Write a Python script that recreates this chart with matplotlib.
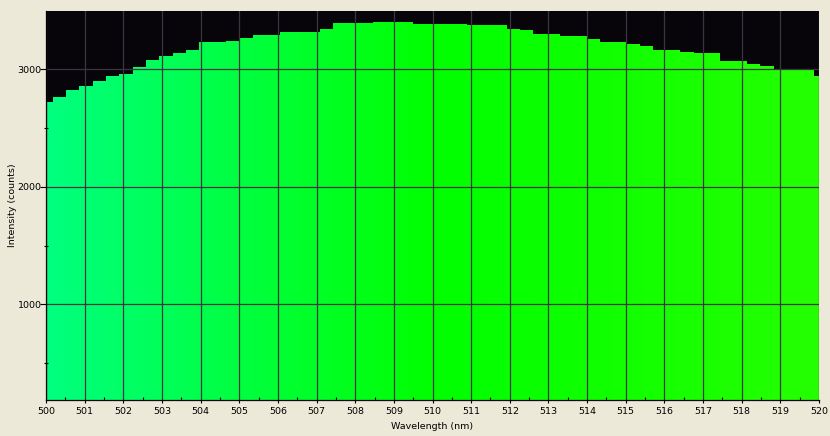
import numpy as np
import matplotlib
matplotlib.use('Agg')
import matplotlib.pyplot as plt
from matplotlib.ticker import MultipleLocator

# ---------------------------------------------------------------- data ----

wavelengths = [500.00, 500.35, 500.69, 501.04, 501.38, 501.73, 502.07, 502.42,
               502.76, 503.11, 503.45, 503.80, 504.14, 504.49, 504.84, 505.18,
               505.53, 505.87, 506.22, 506.56, 506.91, 507.25, 507.60, 507.94,
               508.29, 508.64, 508.98, 509.33, 509.67, 510.02, 510.36, 510.71,
               511.05, 511.40, 511.74, 512.09, 512.43, 512.78, 513.13, 513.47,
               513.82, 514.16, 514.51, 514.85, 515.20, 515.54, 515.89, 516.23,
               516.58, 516.93, 517.27, 517.62, 517.96, 518.31, 518.65, 519.00,
               519.34, 519.69, 520.03]

counts = [2722, 2764, 2824, 2858, 2900, 2943, 2960, 3020, 3079, 3113, 3139, 3164,
          3232, 3232, 3241, 3266, 3292, 3292, 3317, 3317, 3317, 3343, 3394, 3394,
          3394, 3402, 3402, 3402, 3385, 3385, 3385, 3385, 3377, 3377, 3377, 3343,
          3334, 3300, 3300, 3283, 3283, 3258, 3232, 3232, 3215, 3198, 3164, 3164,
          3147, 3139, 3139, 3071, 3071, 3045, 3028, 2997, 2997, 2997, 2943]

x_ticks = list(range(500, 521))
y_ticks = [1000, 2000, 3000]


def wl_color(wl):
    # rough visible-spectrum colour, only the green part is needed here
    if wl < 510:
        return (0.0, 1.0, (510 - wl) / 20.0)
    return (min((wl - 510) / 70.0, 1.0), 1.0, 0.0)


# ---------------------------------------------------------------- plot ----

BG = '#ECE9D8'
GRID = '#3a3540'

fig = plt.figure(figsize=(8.3, 4.36), dpi=100, facecolor=BG)
ax = fig.add_axes([46 / 830, 36 / 436, 773 / 830, 389 / 436])
ax.set_facecolor('#07050a')

wl = np.array(wavelengths)
half = (wl[1] - wl[0]) / 2
edges = np.concatenate([[wl[0] - half], (wl[1:] + wl[:-1]) / 2, [wl[-1] + half]])

ymin, ymax = 186, 3496
step = ax.stairs(counts, edges, baseline=0, fill=True, facecolor='none',
                 edgecolor='none')

cols = np.linspace(500, 520, 800)
grad = np.array([[wl_color(c) for c in cols]])
im = ax.imshow(grad, extent=[500, 520, ymin, ymax], aspect='auto',
               interpolation='bilinear', zorder=1)
im.set_clip_path(step)

ax.set_xlim(500, 520)
ax.set_ylim(ymin, ymax)

ax.set_xticks(x_ticks)
ax.set_yticks(y_ticks)
ax.xaxis.set_minor_locator(MultipleLocator(0.5))
ax.yaxis.set_minor_locator(MultipleLocator(500))

ax.grid(True, which='major', color=GRID, linewidth=0.9)
ax.set_axisbelow(False)
for gl in ax.get_xgridlines() + ax.get_ygridlines():
    gl.set_zorder(3)

for s in ['top', 'right']:
    ax.spines[s].set_visible(False)
for s in ['left', 'bottom']:
    ax.spines[s].set_color('black')
    ax.spines[s].set_linewidth(0.9)
    ax.spines[s].set_zorder(4)

ax.tick_params(axis='both', which='major', labelsize=6.8, colors='black',
               width=0.8)
ax.tick_params(axis='y', which='major', length=4.3, direction='out', pad=-1.2)
ax.tick_params(axis='x', which='major', length=2, direction='out', pad=3)
ax.tick_params(axis='y', which='minor', length=3, direction='inout', width=0.8)
ax.tick_params(axis='x', which='minor', length=2.5, direction='in', width=0.8)

ax.set_xlabel('Wavelength (nm)', fontsize=6.8)
ax.set_ylabel('Intensity (counts)', fontsize=6.8)
ax.yaxis.set_label_coords(-0.038, 0.5)
ax.xaxis.set_label_coords(0.5, -0.057)

fig.savefig('out.png', dpi=100, facecolor=BG)
